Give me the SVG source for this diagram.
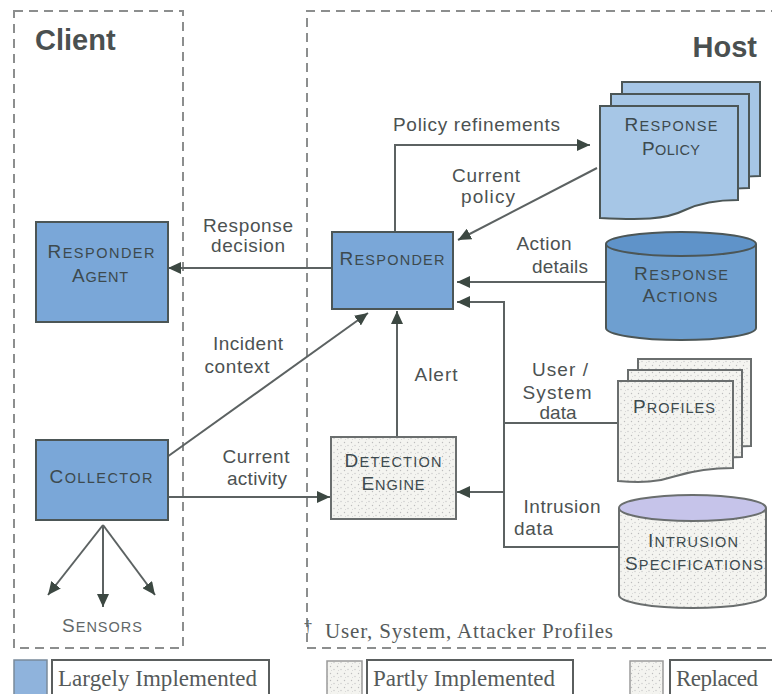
<svg xmlns="http://www.w3.org/2000/svg" width="772" height="694" viewBox="0 0 772 694">
<defs>
<style>
.zone{fill:none;stroke:#8c8e8e;stroke-width:2;stroke-dasharray:9 6}
.title{font-family:"Liberation Sans",Arial,sans-serif;font-weight:bold;font-size:29px;fill:#4a5050}
.lbl{font-family:"Liberation Sans",Arial,sans-serif;font-size:19px;fill:#4c5252}
.nl{font-family:"Liberation Sans",Arial,sans-serif;font-size:14.5px;fill:#3d4a4e;text-anchor:middle}
.nl .c{font-size:19px}
.impl{fill:#7aa7d8;stroke:#4c5656;stroke-width:2}
.part{fill:url(#dots);stroke:#6a6e6e;stroke-width:2}
.conn{fill:none;stroke:#5c6262;stroke-width:2}
.ser{font-family:"Liberation Serif","Times New Roman",serif;font-size:23px;fill:#555a5a}
.lgbox{fill:#ffffff;stroke:#5a5e5e;stroke-width:2}
</style>
<pattern id="dots" width="7" height="7" patternUnits="userSpaceOnUse">
<rect width="7" height="7" fill="#f4f4f0"/>
<circle cx="1.5" cy="1.5" r="0.7" fill="#bdbdbd"/>
<circle cx="5" cy="4.5" r="0.7" fill="#c8c8c8"/>
<circle cx="2.5" cy="5.5" r="0.5" fill="#d0d0d0"/>
</pattern>
<marker id="ah" markerUnits="userSpaceOnUse" markerWidth="14" markerHeight="12" refX="13" refY="6" orient="auto">
<path d="M0,0 L13,6 L0,12 z" fill="#3c4842"/>
</marker>
</defs>
<rect width="772" height="694" fill="#ffffff"/>

<g id="client-zone">
<rect class="zone" x="14" y="11" width="169" height="637"/>
<text class="title" x="35" y="50">Client</text>
</g>
<g id="host-zone">
<path class="zone" d="M780,11 H307 V648 H780"/>
<text class="title" x="757" y="57" text-anchor="end">Host</text>
</g>

<g id="connectors">
<path class="conn" d="M395,231 V145 H590" marker-end="url(#ah)"/>
<path class="conn" d="M597,168 L458,240" marker-end="url(#ah)"/>
<path class="conn" d="M331,268 H168" marker-end="url(#ah)"/>
<path class="conn" d="M606,282 H457" marker-end="url(#ah)"/>
<path class="conn" d="M619,547 H504 V302 H457" marker-end="url(#ah)"/>
<path class="conn" d="M618,423 H504"/>
<path class="conn" d="M504,492 H457" marker-end="url(#ah)"/>
<path class="conn" d="M397,437 V311" marker-end="url(#ah)"/>
<path class="conn" d="M167,457 L368,313" marker-end="url(#ah)"/>
<path class="conn" d="M168,497 H330" marker-end="url(#ah)"/>
<path class="conn" d="M103,525 L48,595" marker-end="url(#ah)"/>
<path class="conn" d="M103,525 V607" marker-end="url(#ah)"/>
<path class="conn" d="M103,525 L155,595" marker-end="url(#ah)"/>
</g>

<g id="edge-labels">
<text class="lbl" x="248" y="232" text-anchor="middle" textLength="90">Response</text>
<text class="lbl" x="248" y="252" text-anchor="middle" textLength="74">decision</text>
<text class="lbl" x="393" y="131" textLength="167">Policy refinements</text>
<text class="lbl" x="486" y="182" text-anchor="middle" textLength="68">Current</text>
<text class="lbl" x="488" y="203" text-anchor="middle" textLength="54">policy</text>
<text class="lbl" x="544" y="250" text-anchor="middle" textLength="55">Action</text>
<text class="lbl" x="560" y="273" text-anchor="middle" textLength="56">details</text>
<text class="lbl" x="248" y="350" text-anchor="middle" textLength="70">Incident</text>
<text class="lbl" x="237" y="373" text-anchor="middle" textLength="65">context</text>
<text class="lbl" x="436" y="381" text-anchor="middle" textLength="43">Alert</text>
<text class="lbl" x="560" y="376" text-anchor="middle" textLength="56">User /</text>
<text class="lbl" x="557" y="399" text-anchor="middle" textLength="69">System</text>
<text class="lbl" x="558" y="419" text-anchor="middle" textLength="37">data</text>
<text class="lbl" x="256" y="463" text-anchor="middle" textLength="67">Current</text>
<text class="lbl" x="257" y="485" text-anchor="middle" textLength="60">activity</text>
<text class="lbl" x="562" y="513" text-anchor="middle" textLength="77">Intrusion</text>
<text class="lbl" x="514" y="535" textLength="39">data</text>
</g>

<g id="responder-agent">
<rect class="impl" x="36" y="222" width="132" height="100"/>
<text class="nl" x="101" y="258" textLength="107"><tspan class="c">R</tspan>ESPONDER</text>
<text class="nl" x="100" y="282" textLength="56"><tspan class="c">A</tspan>GENT</text>
</g>

<g id="collector">
<rect class="impl" x="36" y="440" width="132" height="80"/>
<text class="nl" x="101" y="483" textLength="103"><tspan class="c">C</tspan>OLLECTOR</text>
</g>

<g id="sensors">
<text class="nl" x="102" y="632" textLength="80" style="fill:#626868"><tspan class="c">S</tspan>ENSORS</text>
</g>

<g id="responder">
<rect class="impl" x="332" y="232" width="121" height="77"/>
<text class="nl" x="392" y="265" textLength="105"><tspan class="c">R</tspan>ESPONDER</text>
</g>

<g id="detection-engine">
<rect class="part" x="331" y="437" width="125" height="82"/>
<text class="nl" x="393" y="467" textLength="97"><tspan class="c">D</tspan>ETECTION</text>
<text class="nl" x="393" y="490" textLength="63"><tspan class="c">E</tspan>NGINE</text>
</g>

<g id="response-policy">
<path d="M622,82 H760 V176 C740,176 722,179 707,186 C687,196 662,196 622,194 Z" fill="#a6c6e6" stroke="#4c5656" stroke-width="2"/>
<path d="M611,94 H749 V188 C729,188 711,191 696,198 C676,208 651,208 611,206 Z" fill="#a6c6e6" stroke="#4c5656" stroke-width="2"/>
<path d="M600,106 H738 V200 C718,200 700,203 685,210 C665,220 640,220 600,218 Z" fill="#a6c6e6" stroke="#4c5656" stroke-width="2"/>
<text class="nl" x="671" y="131" textLength="93"><tspan class="c">R</tspan>ESPONSE</text>
<text class="nl" x="671" y="155" textLength="58"><tspan class="c">P</tspan>OLICY</text>
</g>

<g id="response-actions">
<path d="M606,244 V328 A75,12 0 0 0 756,328 V244" fill="#6e9fd0" stroke="#4c5656" stroke-width="2"/>
<ellipse cx="681" cy="244" rx="75" ry="12" fill="#5f93c9" stroke="#4c5656" stroke-width="2"/>
<text class="nl" x="681" y="280" textLength="94"><tspan class="c">R</tspan>ESPONSE</text>
<text class="nl" x="680" y="302" textLength="75"><tspan class="c">A</tspan>CTIONS</text>
</g>

<g id="profiles">
<path class="part" d="M638,359 H751 V446 C733,446 714,448 694,454 C676,460 660,461 638,459 Z"/>
<path class="part" d="M628,370 H742 V457 C724,457 705,459 685,465 C667,471 651,472 628,470 Z"/>
<path class="part" d="M618,381 H733 V468 C715,468 696,470 676,476 C658,482 642,483 618,481 Z"/>
<text class="nl" x="674" y="413" textLength="82"><tspan class="c">P</tspan>ROFILES</text>
</g>

<g id="intrusion-specifications">
<path class="part" d="M619,508 V595 A73.5,13 0 0 0 766,595 V508"/>
<ellipse cx="692.5" cy="508" rx="73.5" ry="13" fill="#c6c4ea" stroke="#6a6e6e" stroke-width="2"/>
<text class="nl" x="693" y="547" textLength="90"><tspan class="c">I</tspan>NTRUSION</text>
<text class="nl" x="694" y="570" textLength="138"><tspan class="c">S</tspan>PECIFICATIONS</text>
</g>

<g id="footnote">
<text class="ser" x="304" y="632" style="font-size:16px">†</text>
<text class="ser" x="325" y="638" textLength="288" style="font-size:21px">User, System, Attacker Profiles</text>
</g>

<g id="legend">
<rect x="14" y="660" width="33" height="40" fill="#8fb3dc" stroke="#7a8a9a" stroke-width="1.5"/>
<rect class="lgbox" x="52" y="660" width="217" height="40"/>
<text class="ser" x="58" y="686" textLength="199">Largely Implemented</text>
<rect x="327" y="661" width="35" height="40" fill="url(#dots)" stroke="#9a9a9a" stroke-width="1.5"/>
<rect class="lgbox" x="367" y="660" width="206" height="40"/>
<text class="ser" x="373" y="686" textLength="182">Partly Implemented</text>
<rect x="630" y="661" width="33" height="40" fill="url(#dots)" stroke="#9a9a9a" stroke-width="1.5"/>
<rect class="lgbox" x="670" y="660" width="110" height="40"/>
<text class="ser" x="676" y="686" textLength="82">Replaced</text>
</g>
</svg>
